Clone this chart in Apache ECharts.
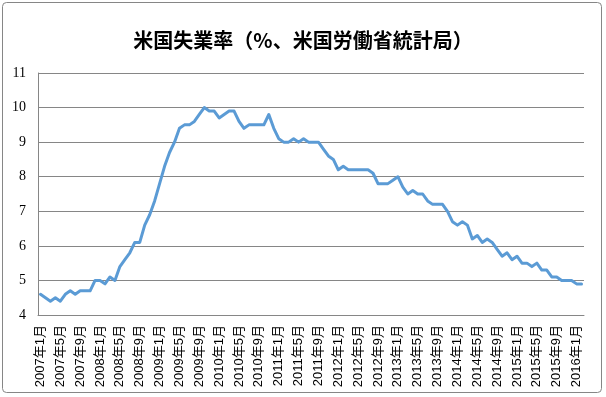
<!DOCTYPE html>
<html>
<head>
<meta charset="utf-8">
<script src="https://cdn.jsdelivr.net/npm/echarts@6/dist/echarts.min.js"></script>
<style>
  html, body { margin: 0; padding: 0; background: #fff; }
  #graphics { width: 606px; height: 397px; }
</style>
</head>
<body>
<div id="graphics"></div>
<script>
// 米国失業率 2007年1月 - 2016年2月 (monthly, %)
const rate2007 = [4.6, 4.5, 4.4, 4.5, 4.4, 4.6, 4.7, 4.6, 4.7, 4.7, 4.7, 5.0];
const rate2008 = [5.0, 4.9, 5.1, 5.0, 5.4, 5.6, 5.8, 6.1, 6.1, 6.6, 6.9, 7.3];
const rate2009 = [7.8, 8.3, 8.7, 9.0, 9.4, 9.5, 9.5, 9.6, 9.8, 10.0, 9.9, 9.9];
const rate2010 = [9.7, 9.8, 9.9, 9.9, 9.6, 9.4, 9.5, 9.5, 9.5, 9.5, 9.8, 9.4];
const rate2011 = [9.1, 9.0, 9.0, 9.1, 9.0, 9.1, 9.0, 9.0, 9.0, 8.8, 8.6, 8.5];
const rate2012 = [8.2, 8.3, 8.2, 8.2, 8.2, 8.2, 8.2, 8.1, 7.8, 7.8, 7.8, 7.9];
const rate2013 = [8.0, 7.7, 7.5, 7.6, 7.5, 7.5, 7.3, 7.2, 7.2, 7.2, 7.0, 6.7];
const rate2014 = [6.6, 6.7, 6.6, 6.2, 6.3, 6.1, 6.2, 6.1, 5.9, 5.7, 5.8, 5.6];
const rate2015 = [5.7, 5.5, 5.5, 5.4, 5.5, 5.3, 5.3, 5.1, 5.1, 5.0, 5.0, 5.0];
const rate2016 = [4.9, 4.9];

const years = [2007, 2008, 2009, 2010, 2011, 2012, 2013, 2014, 2015, 2016];
const yearly = [rate2007, rate2008, rate2009, rate2010, rate2011, rate2012, rate2013, rate2014, rate2015, rate2016];

// category labels like "2007年1月"
const categories = [];
const values = [];
years.forEach(function (y, i) {
    yearly[i].forEach(function (v, m) {
        categories.push(y + '年' + (m + 1) + '月');
        values.push(v);
    });
});

var myChart = echarts.init(document.getElementById('graphics'));

var option = {
    animation: false,
    backgroundColor: '#fff',
    title: {
        text: '米国失業率（%、米国労働省統計局）',
        left: 'center',
        top: 25,
        textStyle: {
            fontFamily: '"Noto Sans CJK JP", sans-serif',
            fontSize: 20,
            fontWeight: 'bold',
            color: '#000'
        }
    },
    graphic: [{
        type: 'rect',
        shape: { x: 2.5, y: 2.5, width: 599, height: 390, r: 4 },
        style: { fill: 'none', stroke: '#868686', lineWidth: 1 },
        z: -1
    }],
    grid: {
        left: 38,
        right: 22,
        top: 73,
        bottom: 82
    },
    xAxis: {
        type: 'category',
        data: categories,
        boundaryGap: true,
        axisLine: { lineStyle: { color: '#868686', width: 1 } },
        axisTick: { show: false },
        axisLabel: {
            interval: 3,
            rotate: 90,
            margin: 10,
            fontSize: 13,
            color: '#000',
            fontFamily: '"Liberation Sans", "Noto Sans CJK JP", sans-serif'
        }
    },
    yAxis: {
        type: 'value',
        min: 4,
        max: 11,
        interval: 1,
        axisLine: { show: true, lineStyle: { color: '#868686', width: 1 } },
        axisTick: { show: false },
        splitLine: { lineStyle: { color: '#868686', width: 1 } },
        axisLabel: {
            margin: 12,
            fontSize: 14,
            color: '#000',
            fontFamily: '"Liberation Serif", serif'
        }
    },
    series: [{
        name: '失業率',
        type: 'line',
        data: values,
        showSymbol: false,
        symbol: 'none',
        lineStyle: { color: '#5B9BD5', width: 3, join: 'round', cap: 'round' }
    }]
};

myChart.setOption(option);
</script>
</body>
</html>
